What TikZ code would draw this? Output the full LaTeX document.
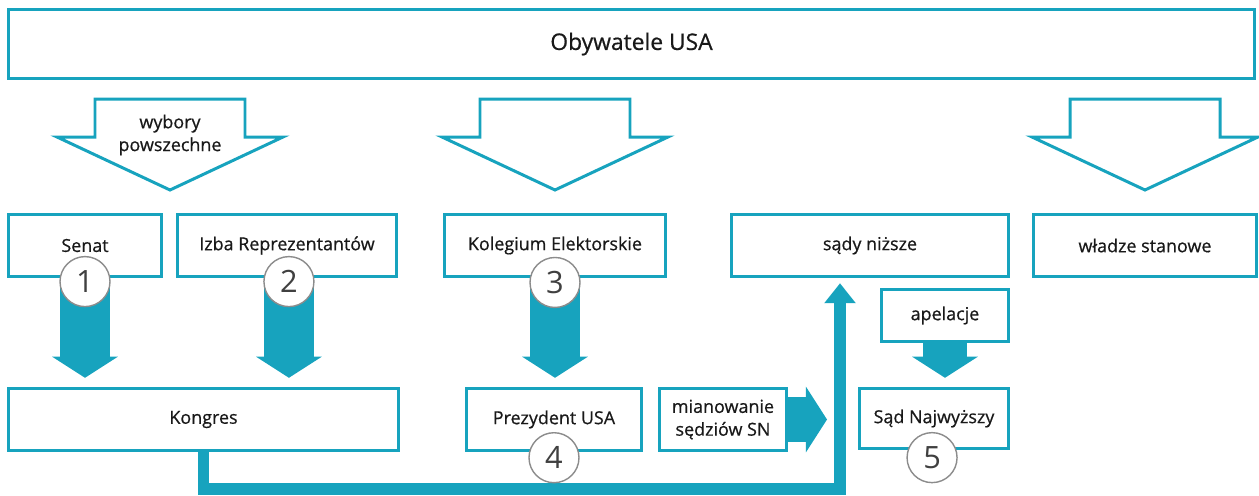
\documentclass[tikz,border=0pt]{standalone}
\usepackage{fontspec}
\setmainfont{Open Sans}
\newfontfamily\semibold{Open Sans}[FakeBold=0.6]
\usepackage{xcolor}
\usetikzlibrary{arrows.meta, positioning}
\definecolor{usateal}{HTML}{17A3BE}
\definecolor{numgray}{HTML}{8C8C8C}

\begin{document}
\begin{tikzpicture}[x=0.02cm, y=-0.02cm,
      box/.style={draw=usateal, line width=1.8pt, fill=white, align=center,
        inner sep=0pt, minimum height=1.24cm, text=black!90,
        font=\semibold\fontsize{10.2pt}{13pt}\selectfont},
      num/.style={circle, draw=numgray, line width=0.8pt, fill=white, inner sep=0pt,
        minimum size=1cm, text=black!75, font=\fontsize{17.5pt}{18pt}\selectfont},
      fat/.style={draw=usateal, line width=28.3pt, shorten >=5.2pt,
        -{Triangle[length=12pt, width=37.4pt, line width=0pt]}},
      link/.style={draw=usateal, line width=6.3pt, shorten >=3pt,
        -{Triangle[length=11.3pt, width=18pt, line width=0pt]}},
      hollow/.style={draw=usateal, line width=1.7pt, fill=white},
      pics/bigdown/.style={code={
          \draw[hollow] (-75,0) -- (75,0) -- (75,38) -- (113,38) -- (0,91)
            -- (-113,38) -- (-75,38) -- cycle;}}]
      \useasboundingbox (0,0) rectangle (1259,495);

      \node[box, minimum width=24.92cm, minimum height=1.38cm,
        font=\semibold\fontsize{13pt}{15pt}\selectfont] (obyw) at (631.5,44) {Obywatele USA};

      \pic at (170,99) {bigdown};
      \pic at (555,99) {bigdown};
      \pic at (1145,99) {bigdown};
      \node[font=\semibold\fontsize{10.2pt}{13pt}\selectfont, text=black!90, align=center]
        (wybory) at (170,135) {wybory\\powszechne};

      \node[box, minimum width=3.06cm] (senat) at (85,245.5) {Senat};
      \node[box, minimum width=4.38cm] (izba) at (287,245.5) {Izba Reprezentantów};
      \node[box, minimum width=4.42cm] (kolegium) at (555,245.5) {Kolegium Elektorskie};
      \node[box, minimum width=5.54cm] (sady) at (870,245.5) {sądy niższe};
      \node[box, minimum width=4.46cm] (wladze) at (1145,245.5) {władze stanowe};

      \node[box, minimum width=7.8cm] (kongres) at (203.5,419.5) {Kongres};
      \node[box, minimum width=3.5cm] (prezydent) at (554,419.5) {Prezydent USA};
      \node[box, minimum width=2.54cm] (mian) at (723,419.5) {mianowanie\\sędziów SN};
      \node[box, minimum width=2.98cm, minimum height=1.2cm] (sad) at (934,418.5) {Sąd Najwyższy};
      \node[box, minimum width=2.54cm, minimum height=1.04cm] (apel) at (945,315.5) {apelacje};

      \draw[fat] (senat.south) -- (senat.south |- kongres.north);
      \draw[fat] ([xshift=1.1pt]izba.south) -- ([xshift=1.1pt]izba.south |- kongres.north);
      \draw[fat] (kolegium.south) -- (kolegium.south |- prezydent.north);
      \draw[fat, line width=25.5pt] (apel.south) -- (apel.south |- sad.north);
      \draw[fat, line width=25.5pt, shorten >=17.6pt] (mian.east) -- (mian.east -| sad.west);

      \coordinate (bend) at (840,489);
      \draw[link] (kongres.south) |- (bend) -- (bend |- sady.south);

      \node[num] (n1) at ([yshift=-2pt]senat.south) {1};
      \node[num] (n2) at ([xshift=1.1pt, yshift=-2pt]izba.south) {2};
      \node[num] (n3) at ([yshift=-2.5pt]kolegium.south) {3};
      \node[num] (n4) at ([yshift=-3.2pt]prezydent.south) {4};
      \node[num] (n5) at ([xshift=-1.1pt, yshift=-4.3pt]sad.south) {5};
      % \draw[link] (prezydent.east) -- (mian.west);
\end{tikzpicture}
\end{document}
